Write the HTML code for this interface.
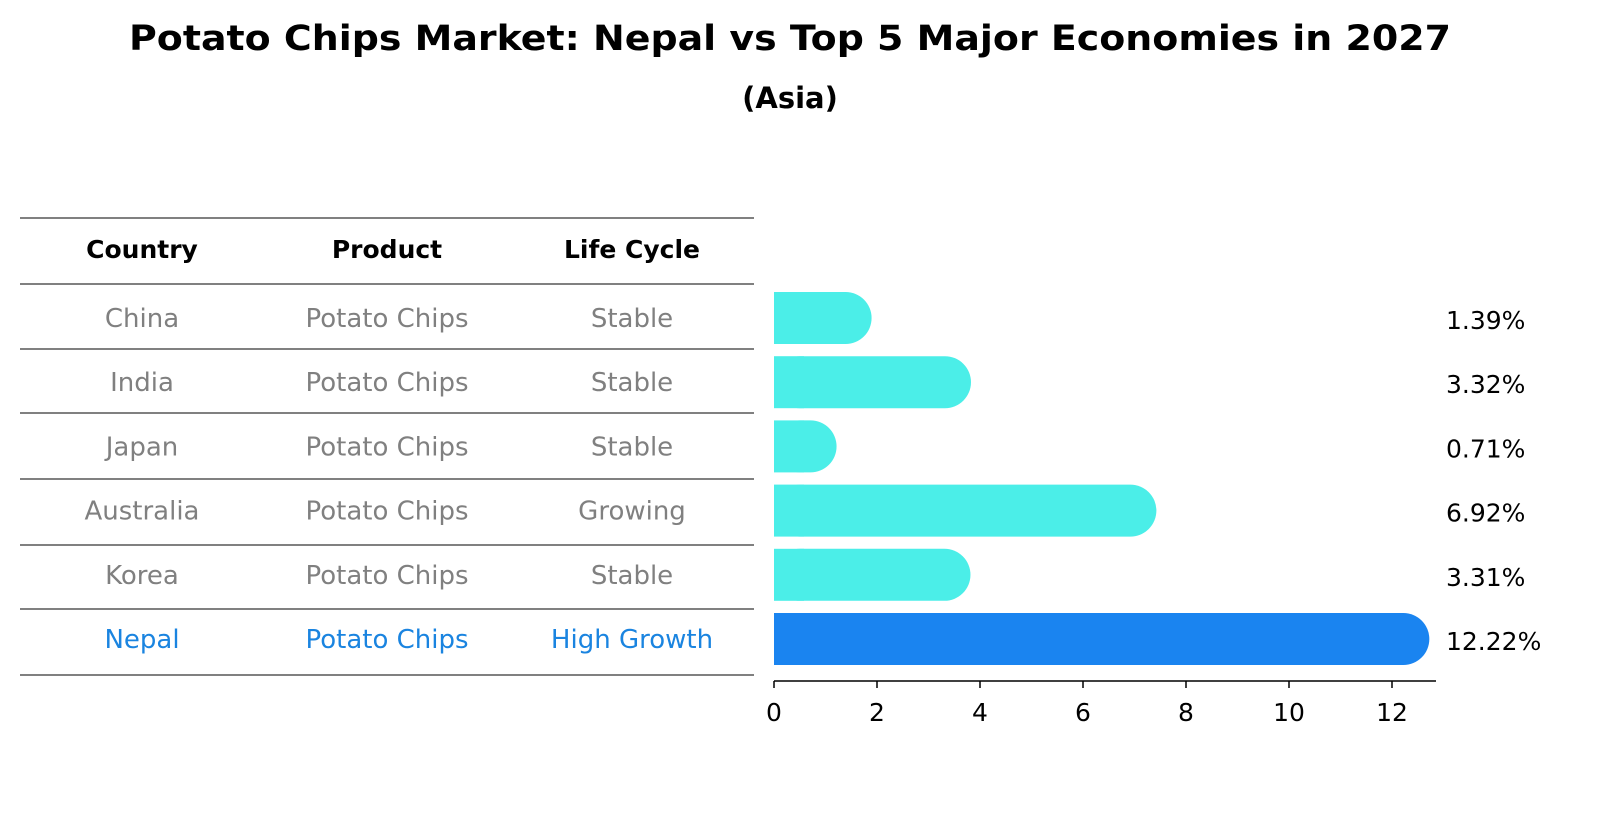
<!DOCTYPE html>
<html><head><meta charset="utf-8"><style>
html,body{margin:0;padding:0;background:#fff;overflow:hidden;width:1604px;height:823px}
svg{display:block}
</style></head><body>
<svg width="1604" height="823" xmlns="http://www.w3.org/2000/svg" font-family="DejaVu Sans, Liberation Sans, sans-serif">
<text x="790" y="50" text-anchor="middle" font-size="35" font-weight="bold" textLength="1322" lengthAdjust="spacingAndGlyphs">Potato Chips Market: Nepal vs Top 5 Major Economies in 2027</text>
<text x="790" y="108" text-anchor="middle" font-size="29" font-weight="bold">(Asia)</text>
<g id="table"></g>
<g id="bars"></g>
<g id="axis"></g>
</svg>
<script>
const countries=["China","India","Japan","Australia","Korea","Nepal"];
const lifeCycle=["Stable","Stable","Stable","Growing","Stable","High Growth"];
const values=[1.39,3.32,0.71,6.92,3.31,12.22];
const ticks=[0,2,4,6,8,10,12];
const NS="http://www.w3.org/2000/svg";
function mk(tag,attrs,parent,text){const e=document.createElementNS(NS,tag);for(const k in attrs)e.setAttribute(k,attrs[k]);if(text!==undefined)e.textContent=text;parent.appendChild(e);return e;}
const x0=774,scale=(1392-774)/12;
const xs=v=>x0+v*scale;
const rowY=i=>318+i*64.2;
const tbl=document.getElementById('table');
const lines=[218,284,349,413,479,545,609,675];
lines.forEach(y=>{const l=mk('line',{x1:20,x2:754,y1:y,y2:y,stroke:'#000','stroke-width':1},tbl);});
const cols=[142,387,632];
["Country","Product","Life Cycle"].forEach((h,j)=>{const t=mk('text',{x:cols[j],y:258,'text-anchor':'middle','font-size':25,'font-weight':'bold'},tbl,h);});
countries.forEach((c,i)=>{const col=i===countries.length-1?'#1a84e0':'#808080';
[c,"Potato Chips",lifeCycle[i]].forEach((s,j)=>{const t=mk('text',{x:cols[j],y:rowY(i)+9,'text-anchor':'middle','font-size':26,fill:col},tbl,s);});});
const bars=document.getElementById('bars');
values.forEach((v,i)=>{const last=i===values.length-1;const fill=last?'#1a84f0':'#4beee8';const h=52,y=rowY(i)-26;const w=xs(v)+26-x0;
const g=mk('g',{},bars);
mk('rect',{x:x0,y:y,width:w,height:h,rx:26,fill:fill},g);
mk('rect',{x:x0,y:y,width:Math.min(30,w),height:h,fill:fill},g);
const t=mk('text',{x:1446,y:rowY(i)+11,'font-size':25},bars,v.toFixed(2)+'%');});
const ax=document.getElementById('axis');
mk('line',{x1:x0,x2:1436,y1:681,y2:681,stroke:'#000','stroke-width':1.5},ax);
ticks.forEach(t=>{mk('line',{x1:xs(t),x2:xs(t),y1:681,y2:688,stroke:'#000','stroke-width':1.5},ax);const e=mk('text',{x:xs(t),y:721,'text-anchor':'middle','font-size':25},ax,String(t));});
</script>
</body></html>
